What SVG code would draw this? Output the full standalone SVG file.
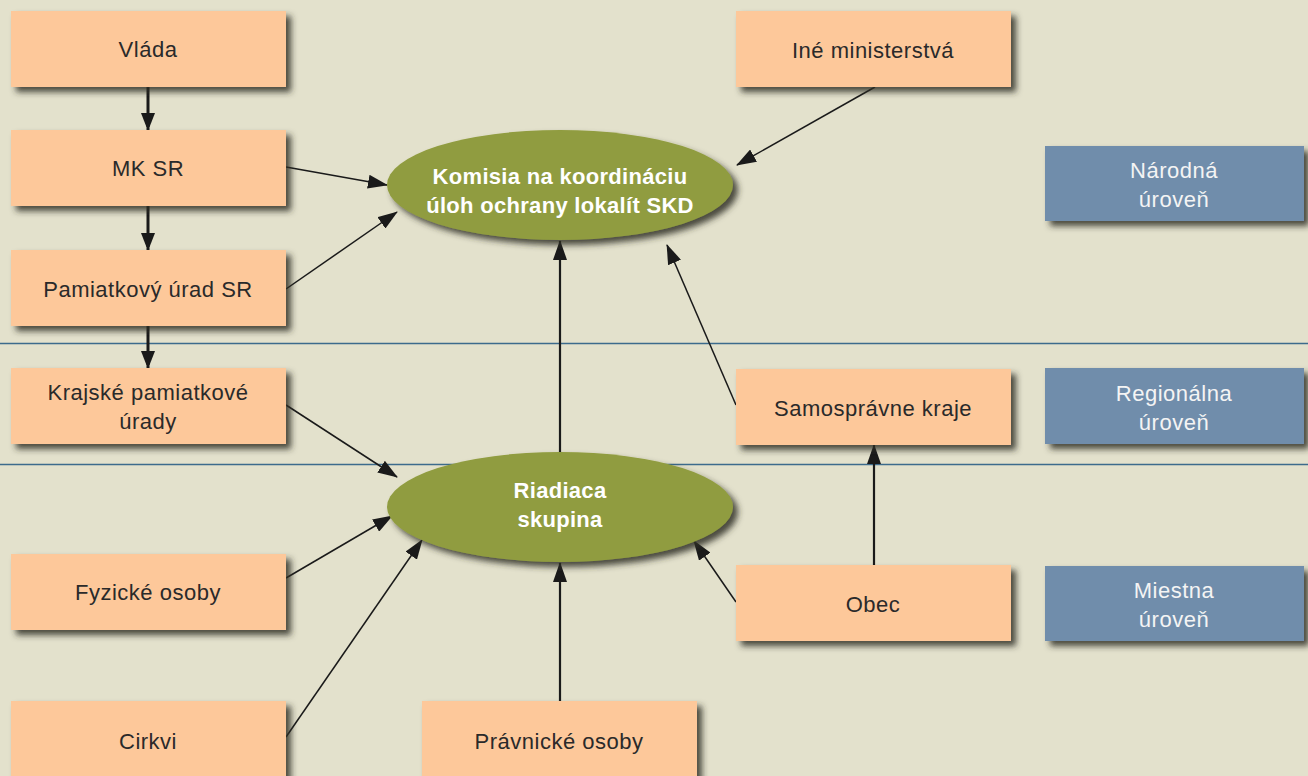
<svg xmlns="http://www.w3.org/2000/svg" width="1308" height="776" viewBox="0 0 1308 776">
<style>
.box{fill:#fdc89a;filter:url(#sh)}
.lvl{fill:#6f8dab;filter:url(#sh)}
.ell{fill:#909c3f;filter:url(#sh)}
.t{font-family:"Liberation Sans",Arial,sans-serif;font-size:22px;letter-spacing:0.5px;fill:#2a2a2a;text-anchor:middle;dominant-baseline:central}
.tw{font-family:"Liberation Sans",Arial,sans-serif;font-size:22px;letter-spacing:0.5px;fill:#f4f4f4;text-anchor:middle;dominant-baseline:central}
.tb{font-family:"Liberation Sans",Arial,sans-serif;font-size:22px;letter-spacing:0.3px;font-weight:bold;fill:#ffffff;text-anchor:middle;dominant-baseline:central}
.c{stroke:#1a1a1a;stroke-width:1.5;fill:none;marker-end:url(#ah)}
.ck{stroke:#1a1a1a;stroke-width:3;fill:none;marker-end:url(#ahk)}
.cm{stroke:#1a1a1a;stroke-width:2.2;fill:none;marker-end:url(#ahm)}
</style>
<defs>
<filter id="sh" x="-10%" y="-20%" width="130%" height="150%">
<feDropShadow dx="5" dy="5" stdDeviation="3" flood-color="#2e2e26" flood-opacity="0.85"/>
</filter>
<marker id="ah" markerWidth="20" markerHeight="14" refX="19" refY="7" orient="auto" markerUnits="userSpaceOnUse">
<path d="M0,0 L20,7 L0,14 z" fill="#1a1a1a"/>
</marker>
<marker id="ahk" markerWidth="14" markerHeight="18" refX="17" refY="7" orient="auto" markerUnits="userSpaceOnUse">
<path d="M0,0 L18,7 L0,14 z" fill="#1a1a1a"/>
</marker>
<marker id="ahm" markerWidth="20" markerHeight="16" refX="19" refY="7" orient="auto" markerUnits="userSpaceOnUse">
<path d="M0,0 L20,7 L0,14 z" fill="#1a1a1a"/>
</marker>
</defs>
<rect width="1308" height="776" fill="#e3e1cc"/>
<g id="levels-lines">
<line x1="0" y1="343.5" x2="1308" y2="343.5" stroke="#3c6b8c" stroke-width="1.5"/>
<line x1="0" y1="464.5" x2="1308" y2="464.5" stroke="#3c6b8c" stroke-width="1.5"/>
</g>
<g id="connectors">
<line class="ck" x1="148" y1="87" x2="148" y2="130"/>
<line class="ck" x1="148" y1="206" x2="148" y2="250"/>
<line class="ck" x1="148" y1="326" x2="148" y2="368"/>
<line class="c" x1="286" y1="167" x2="387" y2="185"/>
<line class="c" x1="286" y1="289" x2="397" y2="212"/>
<line class="c" x1="875" y1="87" x2="737" y2="165"/>
<line class="c" x1="736" y1="405" x2="667" y2="245"/>
<line class="cm" x1="560" y1="452" x2="560" y2="241"/>
<line class="c" x1="286" y1="405" x2="397" y2="477"/>
<line class="c" x1="286" y1="578" x2="392" y2="516"/>
<line class="c" x1="286" y1="737" x2="422" y2="540"/>
<line class="cm" x1="560" y1="701" x2="560" y2="563"/>
<line class="c" x1="736" y1="602" x2="694" y2="541"/>
<line class="cm" x1="874" y1="565" x2="874" y2="445"/>
</g>
<g id="vlada"><rect class="box" x="11" y="11" width="275" height="76"/><text class="t" x="148" y="49">Vláda</text></g>
<g id="mksr"><rect class="box" x="11" y="130" width="275" height="76"/><text class="t" x="148" y="168">MK SR</text></g>
<g id="pamiatkovy"><rect class="box" x="11" y="250" width="275" height="76"/><text class="t" x="148" y="289">Pamiatkový úrad SR</text></g>
<g id="krajske"><rect class="box" x="11" y="368" width="275" height="76"/><text class="t" x="148" y="392">Krajské pamiatkové</text><text class="t" x="148" y="421">úrady</text></g>
<g id="fyzicke"><rect class="box" x="11" y="554" width="275" height="76"/><text class="t" x="148" y="592">Fyzické osoby</text></g>
<g id="cirkvi"><rect class="box" x="11" y="701" width="275" height="80"/><text class="t" x="148" y="741">Cirkvi</text></g>
<g id="pravnicke"><rect class="box" x="422" y="701" width="275" height="80"/><text class="t" x="559" y="741">Právnické osoby</text></g>
<g id="ine"><rect class="box" x="736" y="11" width="275" height="76"/><text class="t" x="873" y="50">Iné ministerstvá</text></g>
<g id="samospravne"><rect class="box" x="736" y="369" width="275" height="76"/><text class="t" x="873" y="408">Samosprávne kraje</text></g>
<g id="obec"><rect class="box" x="736" y="565" width="275" height="76"/><text class="t" x="873" y="604">Obec</text></g>
<g id="narodna"><rect class="lvl" x="1045" y="146" width="259" height="75"/><text class="tw" x="1174" y="170">Národná</text><text class="tw" x="1174" y="199">úroveň</text></g>
<g id="regionalna"><rect class="lvl" x="1045" y="368" width="259" height="76"/><text class="tw" x="1174" y="393">Regionálna</text><text class="tw" x="1174" y="422">úroveň</text></g>
<g id="miestna"><rect class="lvl" x="1045" y="566" width="259" height="75"/><text class="tw" x="1174" y="590">Miestna</text><text class="tw" x="1174" y="619">úroveň</text></g>
<g id="komisia"><ellipse class="ell" cx="560" cy="185" rx="173" ry="55"/><text class="tb" x="560" y="176">Komisia na koordináciu</text><text class="tb" x="560" y="205">úloh ochrany lokalít SKD</text></g>
<g id="riadiaca"><ellipse class="ell" cx="560" cy="507" rx="173" ry="55"/><text class="tb" x="560" y="490">Riadiaca</text><text class="tb" x="560" y="519">skupina</text></g>
</svg>
